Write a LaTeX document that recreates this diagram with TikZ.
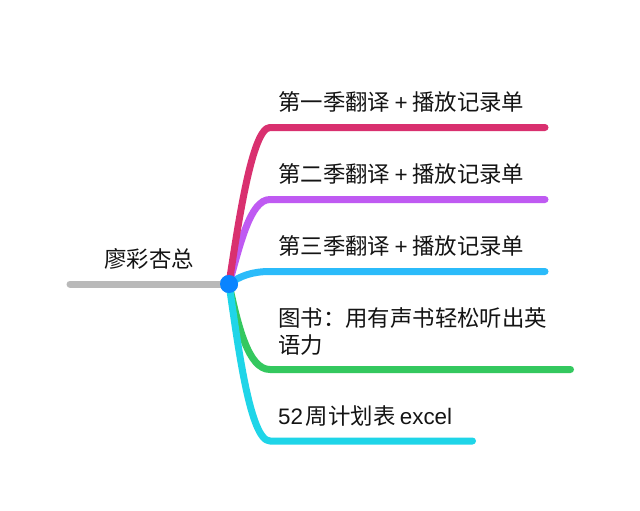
\documentclass[tikz,border=0pt]{standalone}
\usepackage{fontspec}
\setmainfont{Noto Sans CJK SC}
\newfontfamily\latfont{Liberation Sans}
\newcommand{\plusmark}{\hspace{0.2em}{\latfont +}\hspace{0.2em}}
\definecolor{cred}{HTML}{D9306F}
\definecolor{cpurple}{HTML}{BF5AF2}
\definecolor{cblue}{HTML}{2BBBFA}
\definecolor{cgreen}{HTML}{34C85F}
\definecolor{ccyan}{HTML}{1FD5E8}
\definecolor{cgray}{HTML}{B9B9B9}
\definecolor{chub}{HTML}{0A84FF}
\tikzset{
  branch/.style={line width=7pt,line cap=round,line join=round},
  label/.style={anchor=west,inner sep=0pt,font=\fontsize{22.4}{26.5}\selectfont,text=black!92},
  hubdot/.style={circle,fill=chub,inner sep=0pt,minimum size=18pt},
}
\begin{document}
\begin{tikzpicture}[x=1pt,y=-1pt]
\useasboundingbox[fill=white] (0,0) rectangle (640,511);
\node[hubdot] (hub) at (229,284) {};
\coordinate (rootend) at (70,284);
\coordinate (e1) at (545,127.5);
\coordinate (e2) at (545,199.5);
\coordinate (e3) at (545,271.5);
\coordinate (e4) at (570.5,369.5);
\coordinate (e5) at (472.5,441);
\coordinate (b1) at (270,127.5);
\coordinate (b2) at (270,199.5);
\coordinate (b3) at (270,271.5);
\coordinate (b4) at (270,369.5);
\coordinate (b5) at (270,441);
\draw[branch,cgray] (rootend) -- (hub.center);
\draw[branch,cgreen] (hub.center) .. controls (238,325) and (248,369.5) .. (b4) -- (e4);
\draw[branch,ccyan] (hub.center) .. controls (238,345) and (250,441) .. (b5) -- (e5);
\draw[branch,cblue] (hub.center) .. controls (240,276) and (252,271.5) .. (b3) -- (e3);
\draw[branch,cpurple] (hub.center) .. controls (240,245) and (250,199.5) .. (b2) -- (e2);
\draw[branch,cred] (hub.center) .. controls (238,225) and (252,127.5) .. (b1) -- (e1);
\node[hubdot] (hubtop) at (hub) {};
\node[label,anchor=center] (root) at (149,259) {廖彩杏总};
\node[label] (t1) at (278,102) {第一季翻译\plusmark 播放记录单};
\node[label] (t2) at (278,174) {第二季翻译\plusmark 播放记录单};
\node[label] (t3) at (278,246) {第三季翻译\plusmark 播放记录单};
\node[label,align=left] (t4) at (278,331.5) {图书：用有声书轻松听出英\\语力};
\node[label] (t5) at (278,416) {{\latfont 52}\hspace{0.12em}周计划表\hspace{0.2em}{\latfont excel}};
\end{tikzpicture}
\end{document}
